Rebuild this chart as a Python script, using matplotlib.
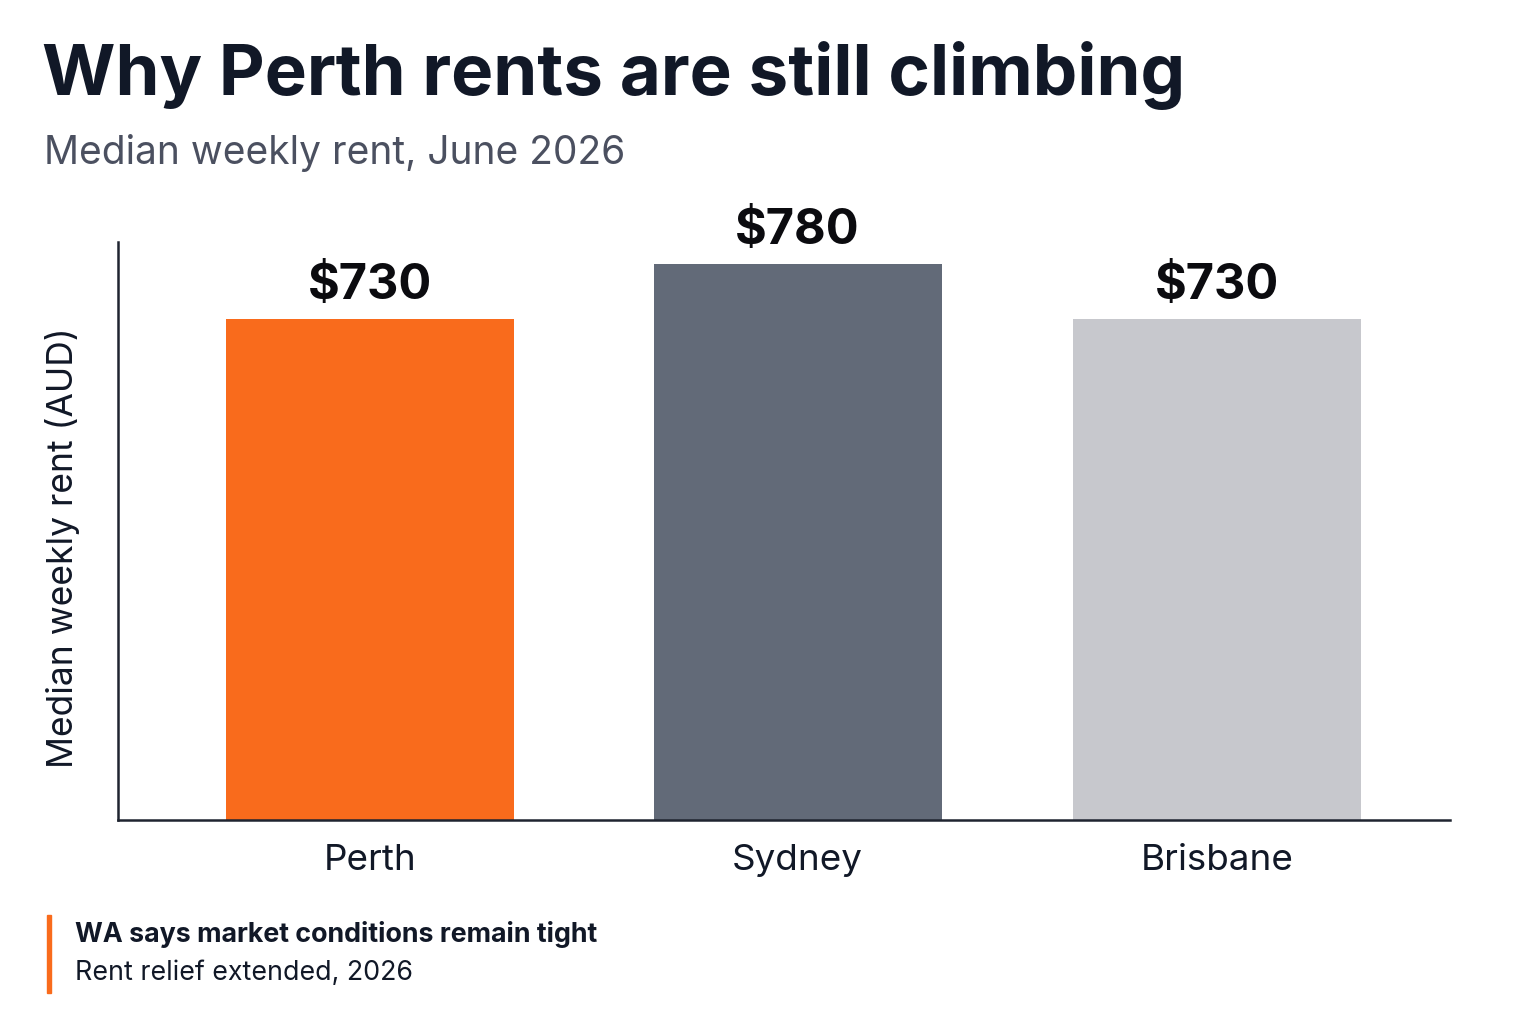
import matplotlib.pyplot as plt
import matplotlib.patches as mpatches

plt.rcParams['font.family'] = ['Inter', 'DejaVu Sans']

cities = ["Perth", "Sydney", "Brisbane"]
rents = [730, 780, 730]
value_labels = ["$730", "$780", "$730"]
bar_colors = ["#F96B1C", "#626A78", "#C7C8CD"]

TITLE = "Why Perth rents are still climbing"
SUBTITLE = "Median weekly rent, June 2026"
Y_LABEL = "Median weekly rent (AUD)"
NOTE_HEAD = "WA says market conditions remain tight"
NOTE_SUB = "Rent relief extended, 2026"

DARK = "#111827"
W, H = 1536, 1024


def main():
    fig = plt.figure(figsize=(W / 100, H / 100), dpi=100)
    fig.patch.set_facecolor("white")

    # axes box in pixel coords: left 118, right 1450, top 242, bottom 820
    ax = fig.add_axes([118 / W, 1 - 820 / H, (1450 - 118) / W, (820 - 242) / H])
    x = [0, 1.01, 2]
    ax.bar(x, rents, width=0.68, color=bar_colors, zorder=2)
    ax.set_xlim(-0.594, 2.55)
    ax.set_ylim(274.5, 800)

    for xi, v, lab in zip(x, rents, value_labels):
        ax.annotate(lab, (xi, v), xytext=(0, 7), textcoords="offset points",
                    ha="center", va="bottom", fontsize=35, fontweight="bold", color="#0B0B0F")

    ax.set_xticks(x)
    ax.set_xticklabels(cities, fontsize=26.5, color=DARK)
    ax.tick_params(axis="x", length=0, pad=17)
    ax.set_yticks([])
    ax.set_ylabel(Y_LABEL, fontsize=25.5, color=DARK, va="center")
    ax.yaxis.set_label_coords(-0.042, 0.471)

    for side in ["top", "right"]:
        ax.spines[side].set_visible(False)
    for side in ["left", "bottom"]:
        ax.spines[side].set_color("#1F2430")
        ax.spines[side].set_linewidth(1.8)

    fig.text(42 / W, 1 - 75 / H, TITLE, fontsize=51, fontweight="bold", color=DARK,
             ha="left", va="center")
    fig.text(44 / W, 1 - 153 / H, SUBTITLE, fontsize=28, color="#4B5060",
             ha="left", va="center")

    # footnote with orange accent bar
    fig.patches.append(mpatches.Rectangle((47 / W, 1 - 993 / H), 4 / W, 78 / H,
                                          transform=fig.transFigure, color="#F96B1C"))
    fig.text(75 / W, 1 - 935 / H, NOTE_HEAD, fontsize=19.3, fontweight="bold", color=DARK,
             ha="left", va="center")
    fig.text(75 / W, 1 - 973 / H, NOTE_SUB, fontsize=19.3, color=DARK,
             ha="left", va="center")

    fig.savefig("out.png", dpi=100)


if __name__ == "__main__":
    main()
